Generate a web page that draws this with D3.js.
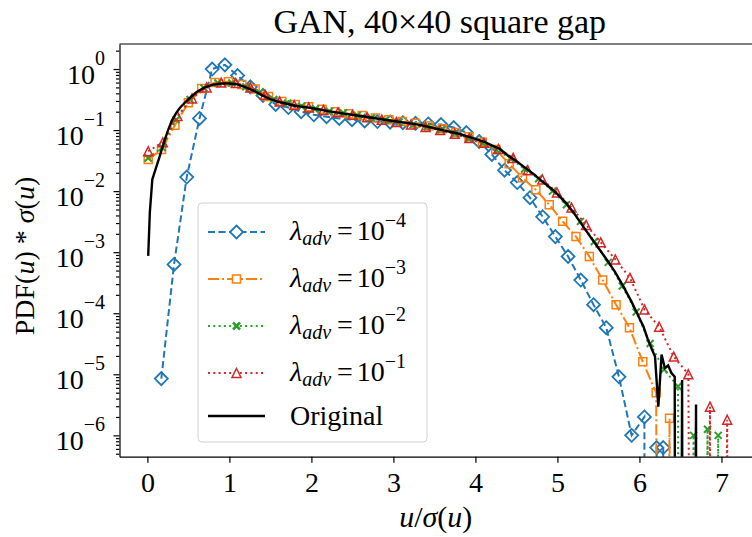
<!DOCTYPE html>
<html>
<head>
<meta charset="utf-8">
<script src="https://cdn.jsdelivr.net/npm/d3@7"></script>
<style>
  body { margin: 0; background: #fff; }
  svg text { font-family: "Liberation Serif", "DejaVu Serif", serif; fill: #000; }
</style>
</head>
<body>
<div id="chart"></div>
<script>
// ---- data ----
var xTicks = [0, 1, 2, 3, 4, 5, 6, 7];
var yDecades = [-6, -5, -4, -3, -2, -1, 0];
var legendExps = ['\u22124', '\u22123', '\u22122', '\u22121'];

// lambda_adv = 1e-4
var xBlue = [0.17, 0.325, 0.48, 0.635, 0.79, 0.945, 1.10, 1.255, 1.41, 1.565, 1.72, 1.875, 2.03, 2.185, 2.34,
  2.495, 2.65, 2.805, 2.96, 3.115, 3.27, 3.425, 3.58, 3.735, 3.89, 4.045, 4.20, 4.355, 4.51, 4.665, 4.82,
  4.975, 5.13, 5.285, 5.44, 5.595, 5.75, 5.905, 6.06, 6.10, 6.21, 6.25, 6.29, 6.33];
var yBlue = [8.5e-6, 6.3e-4, 0.017, 0.155, 1.0, 1.17, 0.78, 0.51, 0.37, 0.263, 0.234, 0.2, 0.178, 0.166, 0.155,
  0.148, 0.141, 0.138, 0.135, 0.132, 0.129, 0.126, 0.123, 0.11, 0.091, 0.065, 0.04, 0.022, 0.0138, 0.0078, 0.0038,
  0.0018, 0.00085, 0.00035, 0.000138, 5.8e-5, 9.1e-6, 1.0e-6, 2.0e-6, 0, 6.3e-7, 0, 6.3e-7, 0];

// lambda_adv = 1e-3
var xOrange = [0.01, 0.173, 0.336, 0.499, 0.662, 0.825, 0.988, 1.151, 1.314, 1.477, 1.64, 1.803, 1.966, 2.129,
  2.292, 2.455, 2.618, 2.781, 2.944, 3.107, 3.27, 3.433, 3.596, 3.759, 3.922, 4.085, 4.248, 4.411, 4.574, 4.737,
  4.90, 5.063, 5.226, 5.389, 5.552, 5.715, 5.878, 6.041, 6.204, 6.27, 6.367, 6.43];
var yOrange = [0.033, 0.048, 0.12, 0.28, 0.48, 0.60, 0.62, 0.56, 0.47, 0.355, 0.295, 0.263, 0.24, 0.219,
  0.2, 0.186, 0.174, 0.158, 0.148, 0.138, 0.129, 0.117, 0.105, 0.091, 0.078, 0.063, 0.048, 0.028, 0.0166, 0.0105,
  0.006, 0.0032, 0.0018, 0.00085, 0.00035, 0.000138, 5.8e-5, 1.6e-5, 5.0e-6, 0, 1.9e-6, 0];

// lambda_adv = 1e-2
var xGreen = [0.01, 0.18, 0.35, 0.52, 0.69, 0.86, 1.03, 1.20, 1.37, 1.54, 1.71, 1.88, 2.05, 2.22, 2.39, 2.56,
  2.73, 2.90, 3.07, 3.24, 3.41, 3.58, 3.75, 3.92, 4.09, 4.26, 4.43, 4.60, 4.77, 4.94, 5.11, 5.28, 5.45, 5.62,
  5.79, 5.96, 6.13, 6.30, 6.47, 6.52, 6.66, 6.70, 6.83, 6.88, 6.96, 7.00];
var yGreen = [0.035, 0.052, 0.148, 0.316, 0.49, 0.59, 0.59, 0.51, 0.41, 0.316, 0.275, 0.245, 0.224, 0.204, 0.19, 0.174,
  0.158, 0.145, 0.135, 0.123, 0.112, 0.1, 0.087, 0.072, 0.060, 0.047, 0.034, 0.023, 0.016, 0.01, 0.006, 0.0032, 0.0015, 0.00068,
  0.00028, 0.000105, 3.2e-5, 1.2e-5, 6.3e-6, 0, 1.0e-6, 0, 1.26e-6, 0, 1.0e-6, 0];

// lambda_adv = 1e-1
var xRed = [0.01, 0.188, 0.366, 0.544, 0.722, 0.90, 1.078, 1.256, 1.434, 1.612, 1.79, 1.968, 2.146, 2.324, 2.502,
  2.68, 2.858, 3.036, 3.214, 3.392, 3.57, 3.748, 3.926, 4.104, 4.282, 4.46, 4.638, 4.816, 4.994, 5.172, 5.35,
  5.528, 5.706, 5.884, 6.062, 6.24, 6.418, 6.596, 6.70, 6.86, 6.90, 7.07, 7.10];
var yRed = [0.045, 0.063, 0.17, 0.33, 0.50, 0.60, 0.59, 0.50, 0.38, 0.295, 0.257, 0.234, 0.214, 0.195, 0.178,
  0.162, 0.148, 0.135, 0.123, 0.112, 0.1, 0.087, 0.074, 0.062, 0.049, 0.035, 0.022, 0.0155, 0.0095, 0.0054, 0.0028,
  0.00145, 0.00076, 0.00038, 0.000115, 6.0e-5, 1.95e-5, 1.0e-5, 0, 2.95e-6, 0, 1.8e-6, 0];

// original
var xOrig = [0.01, 0.03, 0.06, 0.1, 0.15, 0.2, 0.25, 0.3, 0.35, 0.4, 0.45, 0.5, 0.6, 0.7, 0.8, 0.9, 1.0, 1.1, 1.2,
  1.3, 1.4, 1.5, 1.6, 1.7, 1.8, 1.9, 2.0, 2.2, 2.4, 2.6, 2.8, 3.0, 3.1, 3.2, 3.3, 3.4, 3.5, 3.6, 3.7, 3.8, 3.9,
  4.0, 4.1, 4.2, 4.3, 4.4, 4.5, 4.6, 4.7, 4.8, 4.9, 5.0, 5.1, 5.2, 5.3, 5.4, 5.5, 5.6, 5.7, 5.8, 5.9, 6.0, 6.05,
  6.1, 6.15, 6.19, 6.23, 6.27, 6.31, 6.35, 6.39, 6.43, 6.46, 6.52, 6.55, 6.60, 6.69, 6.71];
var yOrig = [8.7e-4, 4.5e-3, 0.0155, 0.023, 0.037, 0.062, 0.098, 0.145, 0.19, 0.234, 0.275, 0.32, 0.42, 0.50, 0.556,
  0.58, 0.58, 0.56, 0.50, 0.44, 0.37, 0.32, 0.29, 0.27, 0.25, 0.24, 0.23, 0.204, 0.186, 0.17, 0.155, 0.141, 0.135,
  0.129, 0.123, 0.115, 0.107, 0.1, 0.093, 0.087, 0.079, 0.072, 0.065, 0.056, 0.049, 0.038, 0.031, 0.0245, 0.0195,
  0.015, 0.0117, 0.0089, 0.0065, 0.0044, 0.0028, 0.0018, 0.00117, 0.00076, 0.00048, 0.00028, 0.000158, 8.3e-5,
  6.0e-5, 3.8e-5, 2.6e-5, 1.95e-5, 2.95e-6, 2.1e-5, 1.26e-5, 1.4e-5, 1.05e-5, 9.1e-6, 0, 8.1e-6, 0, 0, 3.2e-6, 0];

var series = [
  { xs: xBlue, ys: yBlue, color: '#1f77b4', dash: '7,3.5', marker: 'diamond', exp: legendExps[0] },
  { xs: xOrange, ys: yOrange, color: '#ff7f0e', dash: '11,3,2,3', marker: 'square', exp: legendExps[1] },
  { xs: xGreen, ys: yGreen, color: '#2ca02c', dash: '2,3.3', marker: 'x', exp: legendExps[2] },
  { xs: xRed, ys: yRed, color: '#d62728', dash: '2,3.3', marker: 'triangle', exp: legendExps[3] },
  { xs: xOrig, ys: yOrig, color: '#000', dash: null, marker: null, exp: null }
];

// ---- layout ----
var W = 752, H = 537;
var plot = { left: 119.5, right: 760, top: 44, bottom: 456.7 };

var x = d3.scaleLinear().domain([-0.34, 7.47]).range([plot.left, plot.right]);
var y = d3.scaleLog().domain([4.47e-7, 2.57]).range([plot.bottom, plot.top]);

// zeros are pushed far below the axis, as a log axis clips them
function yv(v) { return y(v > 0 ? v : 1e-30); }

var markerPath = {
  diamond: 'M0,-6.5L6.5,0L0,6.5L-6.5,0Z',
  square: 'M-4,-4H4V4H-4Z',
  triangle: 'M0,-4.5L4.5,4.5L-4.5,4.5Z',
  x: 'M-3.5,-3.5L3.5,3.5M-3.5,3.5L3.5,-3.5'
};
var markerWidth = { diamond: 1.8, square: 1.5, triangle: 1.5, x: 2 };

var svg = d3.select('#chart').append('svg')
  .attr('width', W).attr('height', H);

svg.append('defs').append('clipPath').attr('id', 'clip')
  .append('rect')
  .attr('x', plot.left).attr('y', plot.top)
  .attr('width', plot.right - plot.left).attr('height', plot.bottom - plot.top);

var area = svg.append('g').attr('clip-path', 'url(#clip)');
var line = d3.line().x(function(d) { return x(d[0]); }).y(function(d) { return yv(d[1]); });

series.forEach(function(s) {
  var pts = s.xs.map(function(v, i) { return [v, s.ys[i]]; });
  area.append('path')
    .datum(pts)
    .attr('d', line)
    .attr('fill', 'none')
    .attr('stroke', s.color)
    .attr('stroke-width', s.marker ? 2 : 2.4)
    .attr('stroke-dasharray', s.dash);
  if (s.marker) {
    area.selectAll(null).data(pts.filter(function(d) { return d[1] > 0; }))
      .enter().append('path')
      .attr('transform', function(d) { return 'translate(' + x(d[0]) + ',' + yv(d[1]) + ')'; })
      .attr('d', markerPath[s.marker])
      .attr('fill', 'none')
      .attr('stroke', s.color)
      .attr('stroke-width', markerWidth[s.marker]);
  }
});

// ---- axes ----
var xAxis = svg.append('g')
  .attr('transform', 'translate(0,' + plot.bottom + ')')
  .call(d3.axisBottom(x).tickValues(xTicks).tickSize(6).tickPadding(9).tickSizeOuter(0));
xAxis.selectAll('text').style('font-size', '28px');

var majorY = yDecades.map(function(e) { return Math.pow(10, e); });
var minorY = [];
[-7, -6, -5, -4, -3, -2, -1, 0].forEach(function(e) {
  [2, 3, 4, 5, 6, 7, 8, 9].forEach(function(m) {
    var v = m * Math.pow(10, e);
    if (v > y.domain()[0] && v < y.domain()[1]) minorY.push(v);
  });
});

svg.append('g')
  .attr('transform', 'translate(' + plot.left + ',0)')
  .call(d3.axisLeft(y).tickValues(minorY).tickSize(3.5).tickFormat('').tickSizeOuter(0))
  .select('.domain').remove();

var yAxis = svg.append('g')
  .attr('transform', 'translate(' + plot.left + ',0)')
  .call(d3.axisLeft(y).tickValues(majorY).tickSize(6).tickPadding(8.5).tickSizeOuter(0));
yAxis.selectAll('.tick text').each(function(d, i) {
  var t = d3.select(this).text('').attr('dy', null).attr('y', 14).style('font-size', '28px');
  t.append('tspan').text('10');
  t.append('tspan').attr('dy', -18.5).style('font-size', '20px')
    .text(yDecades[i] === 0 ? '0' : '\u2212' + Math.abs(yDecades[i]));
});

svg.selectAll('.domain, .tick line').attr('stroke', '#000').attr('stroke-width', 1.2);

svg.append('line')
  .attr('x1', plot.left).attr('x2', plot.right)
  .attr('y1', plot.top).attr('y2', plot.top)
  .attr('stroke', '#000').attr('stroke-width', 1.2);

// ---- titles ----
var cx = (plot.left + plot.right) / 2;
svg.append('text')
  .attr('x', cx).attr('y', 33)
  .attr('text-anchor', 'middle')
  .style('font-size', '34px')
  .text('GAN, 40\u00d740 square gap');

var xl = svg.append('text')
  .attr('x', cx - 4).attr('y', 527)
  .attr('text-anchor', 'middle')
  .style('font-size', '30px');
xl.append('tspan').style('font-style', 'italic').text('u');
xl.append('tspan').text('/');
xl.append('tspan').style('font-style', 'italic').text('\u03c3');
xl.append('tspan').text('(');
xl.append('tspan').style('font-style', 'italic').text('u');
xl.append('tspan').text(')');

var yl = svg.append('text')
  .attr('transform', 'translate(34,256) rotate(-90)')
  .attr('text-anchor', 'middle')
  .style('font-size', '28px');
yl.append('tspan').text('PDF(');
yl.append('tspan').style('font-style', 'italic').text('u');
yl.append('tspan').text(') * ');
yl.append('tspan').style('font-style', 'italic').text('\u03c3');
yl.append('tspan').text('(');
yl.append('tspan').style('font-style', 'italic').text('u');
yl.append('tspan').text(')');

// ---- legend ----
var legend = svg.append('g');
legend.append('rect')
  .attr('x', 198).attr('y', 203).attr('width', 229).attr('height', 239)
  .attr('rx', 4)
  .attr('fill', '#fff').attr('fill-opacity', 0.8)
  .attr('stroke', '#d0d0d0').attr('stroke-width', 1);

var rowY = [232, 279, 326, 373, 416];
series.forEach(function(s, i) {
  var g = legend.append('g').attr('transform', 'translate(0,' + rowY[i] + ')');
  g.append('line')
    .attr('x1', 208).attr('x2', 265)
    .attr('stroke', s.color).attr('stroke-width', s.marker ? 2 : 2.4)
    .attr('stroke-dasharray', s.dash);
  if (s.marker) {
    g.append('path')
      .attr('transform', 'translate(236.5,0)')
      .attr('d', markerPath[s.marker])
      .attr('fill', '#fff')
      .attr('stroke', s.color)
      .attr('stroke-width', markerWidth[s.marker] + (s.marker === 'x' ? 0.6 : 0));
  }
  var t = g.append('text').attr('x', 290).style('font-size', '28px');
  if (s.exp) {
    t.attr('y', 8);
    t.append('tspan').style('font-style', 'italic').text('\u03bb');
    t.append('tspan').style('font-style', 'italic').style('font-size', '20px').attr('dy', 5).text('adv');
    t.append('tspan').attr('dy', -5).attr('dx', 6).text('=');
    t.append('tspan').attr('dx', 4).text('10');
    t.append('tspan').attr('dy', -13).style('font-size', '20px').text(s.exp);
  } else {
    t.attr('y', 9).text('Original');
  }
});
</script>
</body>
</html>
